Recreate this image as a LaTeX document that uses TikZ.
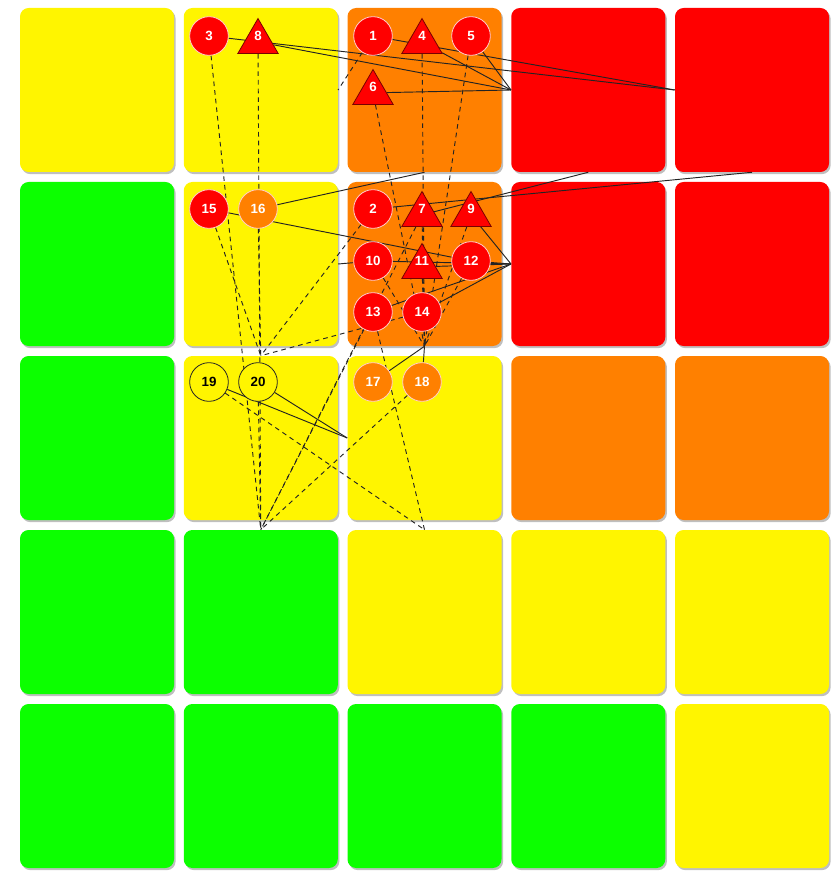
\documentclass[tikz,border=0pt]{standalone}
\usepackage{fontspec}
\setmainfont{Liberation Sans}
\usetikzlibrary{shapes.geometric,shadows}

\definecolor{tyellow}{RGB}{255,245,0}
\definecolor{tgreen}{RGB}{12,255,0}
\definecolor{torange}{RGB}{255,128,0}
\definecolor{tred}{RGB}{255,0,0}
\definecolor{darkred}{RGB}{120,0,0}
\definecolor{rimpink}{RGB}{255,205,205}
\definecolor{linkgray}{RGB}{35,35,35}

\pgfdeclarelayer{tiles}
\pgfdeclarelayer{links}
\pgfsetlayers{tiles,links,main}

\begin{document}
\begin{tikzpicture}[
        x=0.75pt, y=-0.75pt,
        tile/.style={rectangle, rounded corners=6.5pt, inner sep=0pt,
            minimum width=115.5pt, minimum height=123pt,
            drop shadow={shadow xshift=1.2pt, shadow yshift=-1.6pt, fill=black, opacity=0.25}},
        risk/.style={circle, minimum size=29pt, inner sep=0pt, line width=0.6pt,
            font=\fontsize{10}{12}\selectfont\bfseries},
        hot/.style={risk, fill=tred, draw=rimpink, text=white},
        warm/.style={risk, fill=torange, draw=rimpink, text=white},
        mild/.style={risk, fill=tyellow, draw=black!85, text=black},
        tri/.style={regular polygon, regular polygon sides=3, minimum size=35pt,
            inner sep=0pt, fill=tred, draw=darkred, line width=0.6pt, yshift=-4.4pt},
        tritext/.style={text=white, yshift=4.4pt, font=\fontsize{10}{12}\selectfont\bfseries},
        link/.style={draw=linkgray, line width=0.7pt},
        weak/.style={link, dash pattern=on 3.5pt off 3pt}
    ]

        \useasboundingbox (0,0) rectangle (833,873);

        % Tiles
        \begin{pgfonlayer}{tiles}
        \foreach \tint [count=\c] in {tyellow,tyellow,torange,tred,tred}
            \node[tile, fill=\tint] (t1\c) at ({97+163.75*(\c-1)},90) {};
        \foreach \tint [count=\c] in {tgreen,tyellow,torange,tred,tred}
            \node[tile, fill=\tint] (t2\c) at ({97+163.75*(\c-1)},264) {};
        \foreach \tint [count=\c] in {tgreen,tyellow,tyellow,torange,torange}
            \node[tile, fill=\tint] (t3\c) at ({97+163.75*(\c-1)},438) {};
        \foreach \tint [count=\c] in {tgreen,tgreen,tyellow,tyellow,tyellow}
            \node[tile, fill=\tint] (t4\c) at ({97+163.75*(\c-1)},612) {};
        \foreach \tint [count=\c] in {tgreen,tgreen,tgreen,tgreen,tyellow}
            \node[tile, fill=\tint] (t5\c) at ({97+163.75*(\c-1)},786) {};
        \end{pgfonlayer}

        % Risks, first row
        \node[hot] (n3) at (209,36) {3};
        \node[tri, label={[tritext]center:8}] (n8) at (258,36) {};
        \node[hot] (n1) at (373,36) {1};
        \node[tri, label={[tritext]center:4}] (n4) at (422,36) {};
        \node[hot] (n5) at (471,36) {5};
        \node[tri, label={[tritext]center:6}] (n6) at (373,87) {};

        % Risks, second row
        \node[hot] (n15) at (209,209) {15};
        \node[warm] (n16) at (258,209) {16};
        \node[hot] (n2) at (373,209) {2};
        \node[tri, label={[tritext]center:7}] (n7) at (422,209) {};
        \node[tri, label={[tritext]center:9}] (n9) at (471,209) {};
        \node[hot] (n10) at (373,261) {10};
        \node[tri, label={[tritext]center:11}] (n11) at (422,261) {};
        \node[hot] (n12) at (471,261) {12};
        \node[hot] (n13) at (373,312) {13};
        \node[hot] (n14) at (422,312) {14};

        % Risks, third row
        \node[mild] (n19) at (209,382) {19};
        \node[mild] (n20) at (258,382) {20};
        \node[warm] (n17) at (373,382) {17};
        \node[warm] (n18) at (422,382) {18};

        \begin{pgfonlayer}{links}
        % Solid links
        \draw[link] (n3) -- (t15.west);
        \draw[link] (n1) -- (t15.west);
        \foreach \r in {n8,n4,n5,n6}
            \draw[link] (\r) -- (t14.west);
        \draw[link] (n16) -- (t13.south);
        \draw[link] (n2) -- (t15.south);
        \draw[link] (n7) -- (t14.south);
        \draw[link] (n15) -- (n12);
        \draw[link] (n10) -- (t22.east);
        \foreach \r in {n9,n10,n11,n12,n13,n14}
            \draw[link] (\r) -- (t24.west);
        \draw[link] (n19) -- (t33.west);
        \draw[link] (n20) -- (t33.west);
        \draw[link] (n17) -- (t23.south);
        \draw[link] (n18) -- (t23.south);

        % Dashed links
        \draw[weak] (n1) -- (t12.east);
        \foreach \r in {n4,n5,n6,n7,n9,n10,n11,n12}
            \draw[weak] (\r) -- (t23.south);
        \foreach \r in {n15,n16,n2,n14}
            \draw[weak] (\r) -- (t32.north);
        \foreach \r in {n3,n8,n20,n7,n13,n18}
            \draw[weak] (\r) -- (t42.north);
        \draw[weak] (n13) -- (t43.north);
        \draw[weak] (n19) -- (t43.north);
        \end{pgfonlayer}

    \end{tikzpicture}
\end{document}
